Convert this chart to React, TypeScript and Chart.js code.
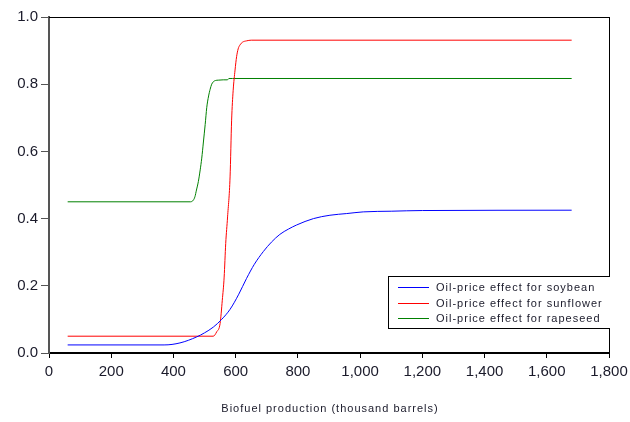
import React, { useEffect, useRef } from "react";
import { Chart, registerables } from "chart.js";

Chart.register(...registerables);

// ---- data ----
const soyX = [60, 370, 421, 475, 500, 528, 555, 582, 610, 635, 660, 689, 715, 742, 770, 796, 850, 903, 957, 1010, 1100, 1200, 1680];
const soyY = [0.024, 0.024, 0.03, 0.048, 0.06, 0.077, 0.1, 0.13, 0.175, 0.222, 0.264, 0.302, 0.33, 0.353, 0.369, 0.381, 0.4, 0.41, 0.415, 0.42, 0.422, 0.424, 0.425];

const sunX = [60, 528, 539, 550, 557, 563, 568, 574, 582, 587, 592, 598, 603, 608, 614, 622, 635, 650, 1680];
const sunY = [0.05, 0.05, 0.063, 0.088, 0.157, 0.226, 0.326, 0.405, 0.524, 0.693, 0.782, 0.842, 0.882, 0.905, 0.917, 0.925, 0.929, 0.931, 0.931];

const rapeX = [60, 455, 464, 469, 474, 480, 486, 491, 496, 502, 507, 513, 518, 523, 528, 535, 544, 560, 574, 578, 590, 1680];
const rapeY = [0.45, 0.45, 0.455, 0.465, 0.485, 0.51, 0.545, 0.58, 0.625, 0.68, 0.73, 0.765, 0.785, 0.8, 0.807, 0.811, 0.812, 0.813, 0.813, 0.817, 0.817, 0.817];

const seriesLabels = [
  "Oil-price effect for soybean",
  "Oil-price effect for sunflower",
  "Oil-price effect for rapeseed",
];
const seriesColors = ["#0000ff", "#ff0000", "#008000"];
const xTitle = "Biofuel production (thousand barrels)";
const xMin = 0;
const xMax = 1800;
const xStep = 200;
const yMin = 0;
const yMax = 1;
const yStep = 0.2;

const toPoints = (xs: number[], ys: number[]) => xs.map((x, i) => ({ x, y: ys[i] }));

const framePlugin = {
  id: "frameAndLegend",
  afterDraw(chart: any) {
    const { ctx, chartArea } = chart;
    const { left, top, right, bottom } = chartArea;
    ctx.save();
    // top & right frame
    ctx.fillStyle = "#000";
    ctx.fillRect(left, top, right + 1 - left, 1);
    ctx.fillRect(right, top, 1, bottom - top);

    // legend box
    const bx = Math.round(right - 221);
    const by = Math.round(top + 259);
    const bw = right + 1 - bx;
    const bh = 53;
    ctx.fillStyle = "#fff";
    ctx.fillRect(bx, by, bw, bh);
    ctx.fillStyle = "#000";
    ctx.fillRect(bx, by, bw, 1);
    ctx.fillRect(bx, by + bh - 1, bw, 1);
    ctx.fillRect(bx, by, 1, bh);
    ctx.font = "11px 'Liberation Sans', Arial, sans-serif";
    (ctx as any).letterSpacing = "1px";
    ctx.textBaseline = "middle";
    ctx.textAlign = "left";
    const rows = [by + 11, by + 27, by + 42];
    seriesLabels.forEach((label, i) => {
      const y = rows[i];
      ctx.fillStyle = seriesColors[i];
      ctx.fillRect(bx + 10, y, 31, 1);
      ctx.fillStyle = "#1a1a2a";
      ctx.fillText(label, bx + 48, y + 1);
    });

    // axis title
    ctx.textAlign = "center";
    ctx.fillStyle = "#1a1a2a";
    ctx.fillText(xTitle, (left + right) / 2 + 1, 408.5);
    ctx.restore();
  },
};

export default function App() {
  const ref = useRef<HTMLCanvasElement | null>(null);

  useEffect(() => {
    document.body.style.margin = "0";
    const canvas = ref.current;
    if (!canvas) return;
    const tickFont = { family: "'Liberation Sans', Arial, sans-serif", size: 15 };
    const chart = new Chart(canvas, {
      type: "line",
      data: {
        datasets: [
          { label: seriesLabels[0], data: toPoints(soyX, soyY), borderColor: seriesColors[0] },
          { label: seriesLabels[1], data: toPoints(sunX, sunY), borderColor: seriesColors[1] },
          { label: seriesLabels[2], data: toPoints(rapeX, rapeY), borderColor: seriesColors[2] },
        ].map((d) => ({
          ...d,
          borderWidth: 1,
          pointRadius: 0,
          fill: false,
          cubicInterpolationMode: "monotone" as const,
        })),
      },
      options: {
        animation: false,
        responsive: false,
        devicePixelRatio: 1,
        layout: { padding: { left: 0, top: 17, right: 21, bottom: 0 } },
        plugins: { legend: { display: false }, tooltip: { enabled: false } },
        scales: {
          x: {
            type: "linear",
            min: xMin,
            max: xMax,
            afterFit: (s: any) => {
              s.height = 69;
              s.paddingLeft = 0;
              s.paddingRight = 0;
            },
            ticks: { stepSize: xStep, color: "#1a1a2a", font: tickFont, padding: 5, maxRotation: 0 },
            grid: { display: true, drawOnChartArea: false, drawTicks: true, tickLength: 5, color: "#000", lineWidth: 1 },
            border: { display: true, color: "#000", width: 2 },
          },
          y: {
            type: "linear",
            min: yMin,
            max: yMax,
            afterFit: (s: any) => {
              s.width = 49;
              s.paddingTop = 0;
              s.paddingBottom = 0;
            },
            ticks: {
              stepSize: yStep,
              color: "#1a1a2a",
              font: tickFont,
              padding: 3,
              callback: (v: any) => Number(v).toFixed(1),
            },
            grid: { display: true, drawOnChartArea: false, drawTicks: true, tickLength: 8, color: "#555", lineWidth: 1 },
            border: { display: true, color: "#555", width: 2 },
          },
        },
      },
      plugins: [framePlugin],
    });
    return () => chart.destroy();
  }, []);

  return (
    <div style={{ position: "absolute", left: 0, top: 0, width: 630, height: 422, background: "#fff" }}>
      <canvas ref={ref} width={630} height={422} />
    </div>
  );
}
